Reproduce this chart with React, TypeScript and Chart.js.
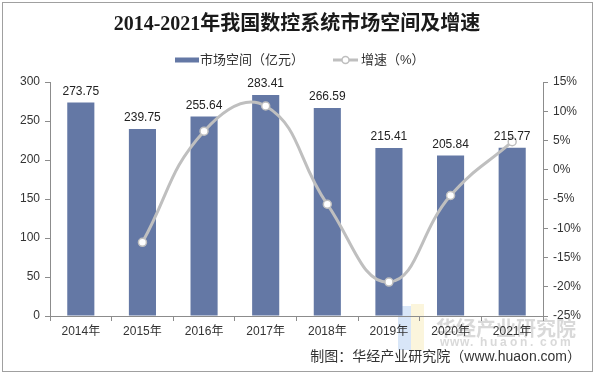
import React, { useEffect, useRef } from 'react';
import { Chart, registerables } from 'chart.js';

Chart.register(...registerables);

const categories = ['2014年', '2015年', '2016年', '2017年', '2018年', '2019年', '2020年', '2021年'];
const marketSize = [273.75, 239.75, 255.64, 283.41, 266.59, 215.41, 205.84, 215.77];
const growthRate = [null, -12.4, 6.6, 10.9, -5.9, -19.2, -4.4, 4.8];
const leftAxis = { min: 0, max: 300, step: 50 };
const rightAxis = { min: -25, max: 15, step: 5 };

const titleText = '2014-2021年我国数控系统市场空间及增速';
const barLegend = '市场空间（亿元）';
const lineLegend = '增速（%）';
const footerText = '制图：华经产业研究院（www.huaon.com）';

const BAR_COLOR = '#6478a5';
const LINE_COLOR = '#bfbfbf';
const AXIS_COLOR = '#8c8c8c';
const TEXT_COLOR = '#333333';
const SANS = '"Liberation Sans", "Noto Sans CJK SC", Arial, sans-serif';

const decorPlugin = {
  id: 'decor',
  beforeDraw(chart: any) {
    const ctx = chart.ctx;
    ctx.save();
    ctx.fillStyle = '#ffffff';
    ctx.fillRect(0, 0, chart.width, chart.height);
    ctx.strokeStyle = '#a0a0a0';
    ctx.lineWidth = 1;
    ctx.strokeRect(2.5, 2.5, chart.width - 5, chart.height - 5);

    // watermark
    ctx.globalAlpha = 0.35;
    ctx.fillStyle = '#8fb8ec';
    ctx.fillRect(398, 306, 13, 44);
    ctx.fillStyle = '#f3e39a';
    ctx.fillRect(411, 304, 13, 46);
    ctx.globalAlpha = 1;
    ctx.fillStyle = 'rgba(170,170,170,0.45)';
    ctx.font = 'bold 20px "Noto Sans CJK SC", sans-serif';
    ctx.textAlign = 'left';
    ctx.textBaseline = 'middle';
    ctx.fillText('华经产业研究院', 436, 328);
    ctx.font = 'bold 12px "Liberation Sans", sans-serif';
    const w = 'www.huaon.com';
    for (let i = 0; i < w.length; i++) {
      ctx.fillText(w[i], 440 + i * 10, 343);
    }
    ctx.restore();
  },
  afterDraw(chart: any) {
    const ctx = chart.ctx;
    ctx.save();
    // title
    ctx.fillStyle = '#1a1a1a';
    ctx.font = 'bold 20px "Liberation Serif", "Noto Sans CJK SC", serif';
    ctx.textAlign = 'center';
    ctx.textBaseline = 'middle';
    ctx.fillText(titleText, 297, 25);

    // legend
    ctx.font = '13px ' + SANS;
    ctx.textAlign = 'left';
    ctx.fillStyle = BAR_COLOR;
    ctx.fillRect(175, 57.5, 24, 5);
    ctx.fillStyle = TEXT_COLOR;
    ctx.fillText(barLegend, 200, 60);
    ctx.strokeStyle = LINE_COLOR;
    ctx.lineWidth = 3;
    ctx.beginPath();
    ctx.moveTo(333, 60);
    ctx.lineTo(358, 60);
    ctx.stroke();
    ctx.beginPath();
    ctx.arc(345.5, 60, 3.5, 0, Math.PI * 2);
    ctx.fillStyle = '#ffffff';
    ctx.fill();
    ctx.lineWidth = 1.5;
    ctx.stroke();
    ctx.fillStyle = TEXT_COLOR;
    ctx.fillText(lineLegend, 361, 60);

    // bar value labels
    const meta = chart.getDatasetMeta(1);
    ctx.font = '12px ' + SANS;
    ctx.textAlign = 'center';
    ctx.textBaseline = 'bottom';
    ctx.fillStyle = '#222222';
    meta.data.forEach((bar: any, i: number) => {
      ctx.fillText(marketSize[i].toFixed(2), bar.x, bar.y - 5);
    });

    // footer
    ctx.font = '14px ' + SANS;
    ctx.textAlign = 'right';
    ctx.textBaseline = 'middle';
    ctx.fillStyle = TEXT_COLOR;
    ctx.fillText(footerText, 581, 357);
    ctx.restore();
  },
};

export default function App() {
  const ref = useRef<HTMLCanvasElement | null>(null);

  useEffect(() => {
    document.body.style.margin = '0';
    const canvas = ref.current;
    if (!canvas) return;
    const chart = new Chart(canvas, {
      type: 'bar',
      data: {
        labels: categories,
        datasets: [
          {
            type: 'line',
            label: lineLegend,
            data: growthRate,
            yAxisID: 'y1',
            borderColor: LINE_COLOR,
            borderWidth: 3,
            tension: 0.45,
            pointRadius: 4,
            pointBackgroundColor: '#ffffff',
            pointBorderColor: LINE_COLOR,
            pointBorderWidth: 1.5,
            spanGaps: false,
            order: 0,
          } as any,
          {
            type: 'bar',
            label: barLegend,
            data: marketSize,
            yAxisID: 'y',
            backgroundColor: BAR_COLOR,
            barPercentage: 0.44,
            categoryPercentage: 1,
            order: 1,
          },
        ],
      },
      options: {
        responsive: false,
        animation: false,
        devicePixelRatio: 1,
        layout: { padding: { top: 82, left: 0, right: 0, bottom: 0 } },
        plugins: {
          legend: { display: false },
          title: { display: false },
          tooltip: { enabled: false },
        },
        scales: {
          x: {
            offset: true,
            grid: {
              offset: true,
              drawOnChartArea: false,
              tickLength: 5,
              color: AXIS_COLOR,
            },
            border: { display: true, color: AXIS_COLOR },
            ticks: {
              color: TEXT_COLOR,
              font: { size: 12, family: SANS },
              padding: 3,
              maxRotation: 0,
            },
            afterFit: (s: any) => {
              s.height = 58;
            },
          },
          y: {
            position: 'left',
            min: leftAxis.min,
            max: leftAxis.max,
            ticks: {
              stepSize: leftAxis.step,
              color: TEXT_COLOR,
              font: { size: 12, family: SANS },
              padding: 5,
            },
            grid: { drawOnChartArea: false, tickLength: 5, color: AXIS_COLOR },
            border: { display: true, color: AXIS_COLOR },
            afterFit: (s: any) => {
              s.width = 50;
            },
          },
          y1: {
            position: 'right',
            min: rightAxis.min,
            max: rightAxis.max,
            ticks: {
              stepSize: rightAxis.step,
              color: TEXT_COLOR,
              font: { size: 12, family: SANS },
              padding: 5,
              callback: (v: any) => v + '%',
            },
            grid: { drawOnChartArea: false, tickLength: 5, color: AXIS_COLOR },
            border: { display: true, color: AXIS_COLOR },
            afterFit: (s: any) => {
              s.width = 52;
            },
          },
        },
      },
      plugins: [decorPlugin],
    });
    return () => chart.destroy();
  }, []);

  return (
    <div style={{ width: 595, height: 374 }}>
      <canvas ref={ref} width={595} height={374} style={{ display: 'block' }} />
    </div>
  );
}
